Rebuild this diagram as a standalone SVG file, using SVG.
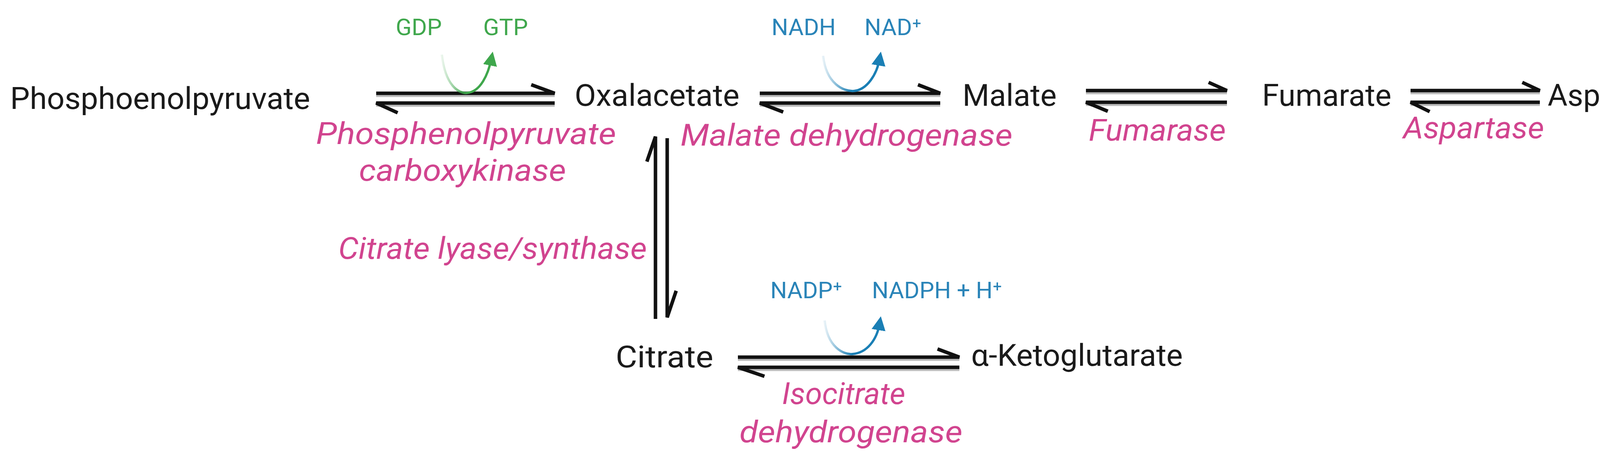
<svg xmlns="http://www.w3.org/2000/svg" width="4325" height="1181" viewBox="0 0 4325 1181">
<style>
.m{font-family:Roboto,"Liberation Sans",sans-serif;font-size:78px;fill:#1a1a1a}
.e{font-family:Roboto,"Liberation Sans",sans-serif;font-size:78px;font-style:italic;fill:#d1448f}
.g{font-family:Roboto,"Liberation Sans",sans-serif;font-size:60px;fill:#3fa74c}
.b{font-family:Roboto,"Liberation Sans",sans-serif;font-size:60px;fill:#2a84b8}
.a{stroke:#111;stroke-width:9;fill:none;stroke-linecap:butt}
.s{stroke:#bbb;stroke-width:5;fill:none}
.cg{stroke:url(#gg);stroke-width:6;fill:none;marker-end:url(#hg)}
.cb{stroke:url(#gb);stroke-width:6;fill:none;marker-end:url(#hb)}
</style>
<defs>
<linearGradient id="gg" x1="0" y1="0" x2="1" y2="0"><stop offset="0" stop-color="#3fa74c" stop-opacity="0.1"/><stop offset="0.5" stop-color="#3fa74c"/></linearGradient>
<linearGradient id="gb" x1="0" y1="0" x2="1" y2="0"><stop offset="0" stop-color="#1a7fb5" stop-opacity="0.1"/><stop offset="0.5" stop-color="#1a7fb5"/></linearGradient>
<marker id="hg" markerWidth="6" markerHeight="6" refX="3" refY="3" orient="auto" markerUnits="strokeWidth"><path d="M0,0 L6,3 L0,6 z" fill="#3fa74c"/></marker>
<marker id="hb" markerWidth="6" markerHeight="6" refX="3" refY="3" orient="auto" markerUnits="strokeWidth"><path d="M0,0 L6,3 L0,6 z" fill="#1a7fb5"/></marker>
</defs>
<rect width="4325" height="1181" fill="#fff"/>
<g id="connectors">
<path class="s" d="M963,246 H1420 M963,271 H1420 M1945,246 H2407 M1945,271 H2407 M2780,239 H3141 M2780,269 H3141 M3611,239 H3942 M3611,269 H3942 M1889,922 H2456 M1889,948 H2456"/>
<path class="a" d="M963,239 H1420 L1360,217 M1420,264 H963 L1018,289"/>
<path class="a" d="M1945,239 H2407 L2350,217 M2407,264 H1945 L2005,287"/>
<path class="a" d="M2780,232 H3141 L3094,211 M3141,262 H2780 L2836,285"/>
<path class="a" d="M3611,232 H3942 L3897,211 M3942,262 H3611 L3660,286"/>
<path class="a" d="M1889,915 H2456 L2400,894 M2456,941 H1889 L1957,964"/>
<path class="a" d="M1678,817 V350 L1656,414 M1708,354 V813 L1731,745"/>
<path class="cg" d="M1131,140 C1140,220 1175,240 1195,238 C1230,236 1250,190 1258,150"/>
<path class="cb" d="M2107,143 C2115,215 2160,235 2186,233 C2220,230 2245,190 2252,150"/>
<path class="cb" d="M2111,821 C2118,890 2160,909 2182,907 C2220,904 2245,870 2252,828"/>
</g>
<g id="n-pep"><text class="m" x="26" y="279" textLength="768" lengthAdjust="spacingAndGlyphs">Phosphoenolpyruvate</text></g>
<g id="n-oaa"><text class="m" x="1471" y="271" textLength="422" lengthAdjust="spacingAndGlyphs">Oxalacetate</text></g>
<g id="n-mal"><text class="m" x="2464" y="271" textLength="241" lengthAdjust="spacingAndGlyphs">Malate</text></g>
<g id="n-fum"><text class="m" x="3231" y="271" textLength="331" lengthAdjust="spacingAndGlyphs">Fumarate</text></g>
<g id="n-asp"><text class="m" x="3962" y="271" textLength="340" lengthAdjust="spacingAndGlyphs">Aspartate</text></g>
<g id="n-cit"><text class="m" x="1576" y="941" textLength="250" lengthAdjust="spacingAndGlyphs">Citrate</text></g>
<g id="n-akg"><text class="m" x="2486" y="937" textLength="542" lengthAdjust="spacingAndGlyphs">α-Ketoglutarate</text></g>
<g id="cofactors">
<text class="g" x="1013" y="90">GDP</text>
<text class="g" x="1237" y="90">GTP</text>
<text class="b" x="1975" y="90">NADH</text>
<text class="b" x="2213" y="90">NAD⁺</text>
<text class="b" x="1972" y="764">NADP⁺</text>
<text class="b" x="2232" y="764">NADPH + H⁺</text>
</g>
<g id="enzymes">
<text class="e" x="809" y="369" textLength="768" lengthAdjust="spacingAndGlyphs">Phosphenolpyruvate</text>
<text class="e" x="919" y="463" textLength="530" lengthAdjust="spacingAndGlyphs">carboxykinase</text>
<text class="e" x="1742" y="373" textLength="850" lengthAdjust="spacingAndGlyphs">Malate dehydrogenase</text>
<text class="e" x="2787" y="360" textLength="351" lengthAdjust="spacingAndGlyphs">Fumarase</text>
<text class="e" x="3592" y="354" textLength="361" lengthAdjust="spacingAndGlyphs">Aspartase</text>
<text class="e" x="866" y="663" textLength="790" lengthAdjust="spacingAndGlyphs">Citrate lyase/synthase</text>
<text class="e" x="2002" y="1035">Isocitrate</text>
<text class="e" x="1893" y="1133" textLength="571" lengthAdjust="spacingAndGlyphs">dehydrogenase</text>
</g>
</svg>
